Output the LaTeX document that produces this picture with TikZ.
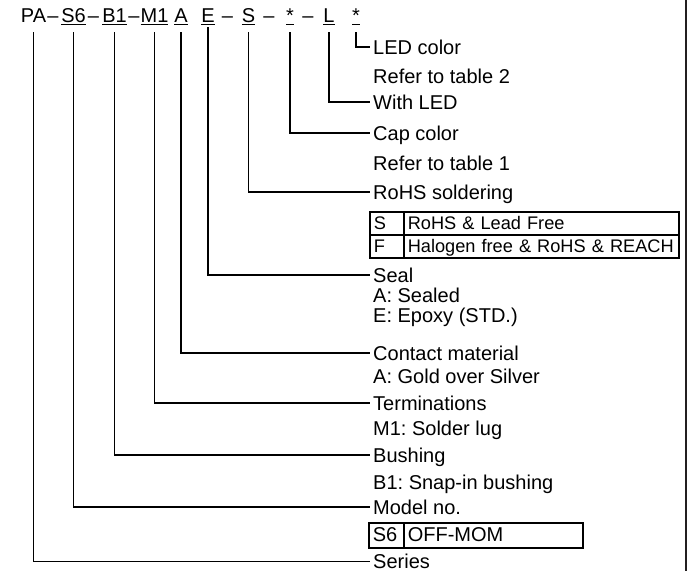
\documentclass[tikz,border=0pt]{standalone}
\usepackage{fontspec}
\setmainfont{Liberation Sans}
\usetikzlibrary{calc}
\definecolor{edge}{HTML}{231F20}
\frenchspacing
% thick underline under a code letter
\newcommand\codeul[1]{\setbox0\hbox{#1}\rlap{\rule[-3.4pt]{\wd0}{1.4pt}}\box0}

\begin{document}
\begin{tikzpicture}[x=1pt,y=-1pt, line join=miter,
  code/.style={anchor=base, inner sep=0pt, text depth=3.4pt, font=\fontsize{20}{24}\selectfont},
  sep/.style={anchor=base, inner sep=0pt, font=\fontsize{20}{24}\selectfont},
  lbl/.style={anchor=west, inner xsep=3pt, inner ysep=0pt, text height=14pt, text depth=0pt,
    font=\fontsize{20}{24}\selectfont},
  conn/.style={line width=1.8pt},
  cell/.style={draw, line width=1.5pt, anchor=north west, inner xsep=4pt, inner ysep=0pt,
    align=left, text height=13pt, text depth=0pt, font=\fontsize{18.2}{22}\selectfont}]
  \useasboundingbox (0,0) rectangle (691,571);
  % frame edge on the right
  \draw[edge, line width=2pt] (686,0) -- (686,571);

  % part number
  \node[sep]  (pa)  at (33.5,22) {PA};
  \node[sep]  (d1)  at (53,22)   {--};
  \node[code] (s6)  at (73.5,22) {\codeul{S6}};
  \node[sep]  (d2)  at (93.5,22) {--};
  \node[code] (b1)  at (114.5,22) {\codeul{B1}};
  \node[sep]  (d3)  at (134,22)  {--};
  \node[code] (m1)  at (154.5,22) {\codeul{M1}};
  \node[code] (a)   at (181,22)  {\codeul{A}};
  \node[code] (e)   at (208,22)  {\codeul{E}};
  \node[sep]  (d4)  at (227.5,22) {--};
  \node[code] (s)   at (248.5,22) {\codeul{S}};
  \node[sep]  (d5)  at (269,22)  {--};
  \node[code] (cap) at (290,22)  {\codeul{*}};
  \node[sep]  (d6)  at (308,22)  {--};
  \node[code] (l)   at (329,22)  {\codeul{L}};
  \node[code] (led) at (356,22)  {\codeul{*}};

  % descriptions
  \node[lbl] (ledcol)  at (370,47)  {LED color};
  \node[lbl] (reftwo)  at (370,76)  {Refer to table 2};
  \node[lbl] (withled) at (370,102) {With LED};
  \node[lbl] (capcol)  at (370,133) {Cap color};
  \node[lbl] (refone)  at (370,163) {Refer to table 1};
  \node[lbl] (rohs)    at (370,192) {RoHS soldering};
  \node[cell, text width=26pt, minimum height=23pt]  (rsk) at (369,211) {S};
  \node[cell, text width=267pt, minimum height=23pt] (rsv) at (403,211) {\mbox{RoHS \& Lead Free}};
  \node[cell, text width=26pt, minimum height=23pt]  (rfk) at (369,234) {F};
  \node[cell, text width=267pt, minimum height=23pt] (rfv) at (403,234) {\mbox{Halogen free \& RoHS \& REACH}};
  \node[lbl] (seal)    at (370,275) {Seal};
  \node[lbl] (seala)   at (370,295) {A: Sealed};
  \node[lbl] (seale)   at (370,315) {E: Epoxy (STD.)};
  \node[lbl] (contact) at (370,353) {Contact material};
  \node[lbl] (conta)   at (370,376) {A: Gold over Silver};
  \node[lbl] (term)    at (370,403) {Terminations};
  \node[lbl] (termm)   at (370,428) {M1: Solder lug};
  \node[lbl] (bush)    at (370,455) {Bushing};
  \node[lbl] (bushb)   at (370,482) {B1: Snap-in bushing};
  \node[lbl] (model)   at (370,507) {Model no.};
  \node[cell, text width=27pt, minimum height=25pt, font=\fontsize{20}{24}\selectfont]  (msk) at (368,522) {S6};
  \node[cell, text width=171pt, minimum height=25pt, font=\fontsize{20}{24}\selectfont] (msv) at (403,522) {OFF-MOM};
  \node[lbl] (series)  at (370,561.5) {Series};

  % leaders
  \draw[conn] ($(led.south)+(0,6.6)$) |- (ledcol.west);
  \draw[conn] ($(l.south)+(0,6.6)$) |- (withled.west);
  \draw[conn] ($(cap.south)+(0,6.6)$) |- (capcol.west);
  \draw[conn] ($(s.south)+(0,6.6)$) |- (rohs.west);
  \draw[conn] ($(e.south)+(0,1.6)$) |- (seal.west);
  \draw[conn] ($(a.south)+(0,6.6)$) |- (contact.west);
  \draw[conn] ($(m1.south)+(0,6.6)$) |- (term.west);
  \draw[conn] ($(b1.south)+(0,6.6)$) |- (bush.west);
  \draw[conn] ($(s6.south)+(0,6.6)$) |- (model.west);
  \draw[conn] ($(pa.south)+(0,10)$) |- (series.west);
\end{tikzpicture}
\end{document}
